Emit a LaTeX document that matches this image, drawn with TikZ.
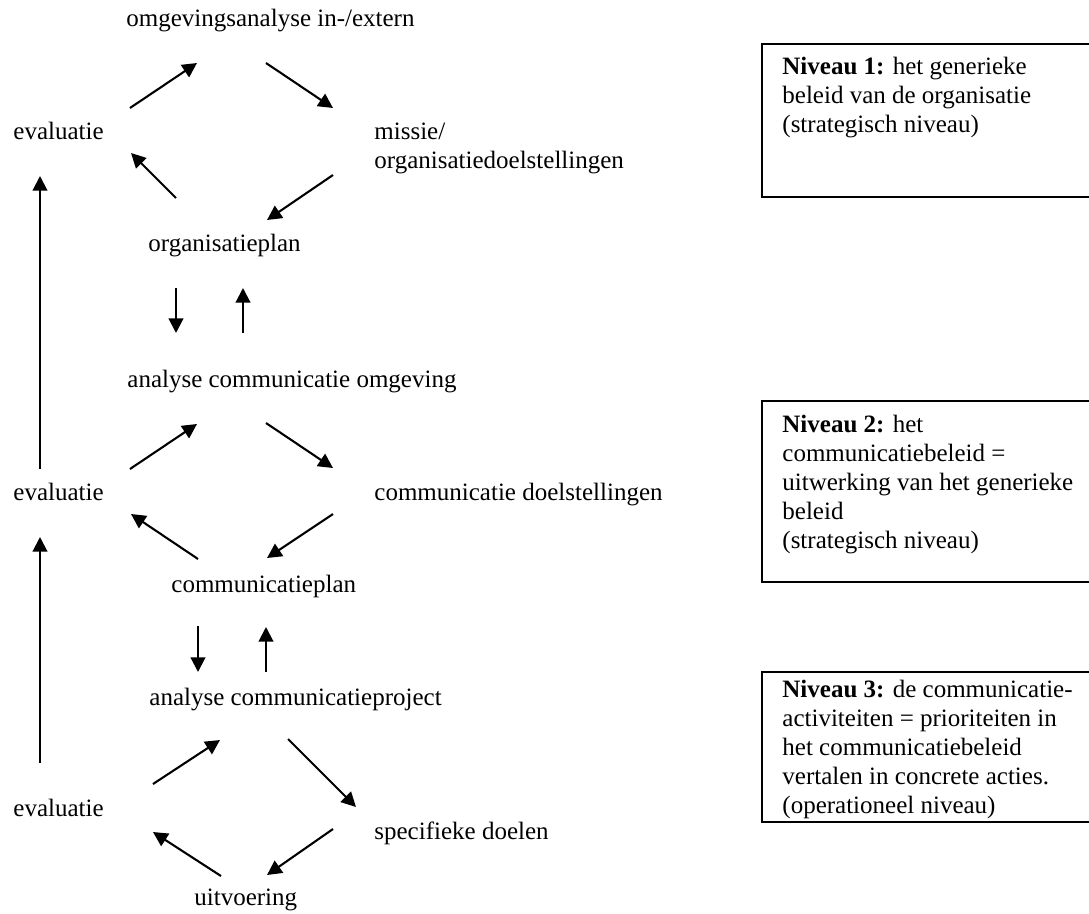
\documentclass[tikz,border=0pt]{standalone}
\usepackage{fontspec}
\setmainfont{Liberation Serif}
\usetikzlibrary{arrows.meta}
\begin{document}
\begin{tikzpicture}[x=0.48pt,y=-0.48pt,
  lbl/.style={anchor=base west, inner sep=0pt, align=left, font=\fontsize{12pt}{13.9pt}\selectfont},
  arr/.style={line width=1pt, -{Triangle[length=7pt,width=7pt]}},
  boxline/.style={draw, line width=1.1pt}]
\clip (0,0) rectangle (1089,913);
\fill[white] (0,0) rectangle (1089,913);

% level 1 (multi-line nodes are anchored at their last baseline)
\node[lbl] (omg) at (126,26) {omgevingsanalyse in-/extern};
\node[lbl] (ev1) at (13,139) {evaluatie};
\node[lbl] (mis) at (374,168) {missie/\\organisatiedoelstellingen};
\node[lbl] (orgp) at (148,251) {organisatieplan};

\coordinate (a1s) at (130,108); \coordinate (a1e) at (197,63);
\coordinate (a2s) at (266,63);  \coordinate (a2e) at (333,108);
\coordinate (a3s) at (333,175); \coordinate (a3e) at (267,220);
\coordinate (a4s) at (176,198); \coordinate (a4e) at (131,153);
\draw[arr] (a1s) -- (a1e);
\draw[arr] (a2s) -- (a2e);
\draw[arr] (a3s) -- (a3e);
\draw[arr] (a4s) -- (a4e);

\coordinate (d1s) at (176,288); \coordinate (d1e) at (176,333);
\coordinate (u1s) at (243,333); \coordinate (u1e) at (243,288);
\draw[arr] (d1s) -- (d1e);
\draw[arr] (u1s) -- (u1e);

\coordinate (v1s) at (40,469); \coordinate (v1e) at (40,176);
\draw[arr] (v1s) -- (v1e);

% level 2
\node[lbl] (aco) at (127,387) {analyse communicatie omgeving};
\node[lbl] (ev2) at (13,500) {evaluatie};
\node[lbl] (cdo) at (374,500) {communicatie doelstellingen};
\node[lbl] (cpl) at (171,592) {communicatieplan};

\coordinate (b1s) at (130,469); \coordinate (b1e) at (197,424);
\coordinate (b2s) at (266,423); \coordinate (b2e) at (333,468);
\coordinate (b3s) at (333,514); \coordinate (b3e) at (267,558);
\coordinate (b4s) at (198,559); \coordinate (b4e) at (131,514);
\draw[arr] (b1s) -- (b1e);
\draw[arr] (b2s) -- (b2e);
\draw[arr] (b3s) -- (b3e);
\draw[arr] (b4s) -- (b4e);

\coordinate (d2s) at (198,626); \coordinate (d2e) at (198,672);
\coordinate (u2s) at (266,672); \coordinate (u2e) at (266,627);
\draw[arr] (d2s) -- (d2e);
\draw[arr] (u2s) -- (u2e);

\coordinate (v2s) at (40,763); \coordinate (v2e) at (40,537);
\draw[arr] (v2s) -- (v2e);

% level 3
\node[lbl] (acp) at (149,705) {analyse communicatieproject};
\node[lbl] (ev3) at (13,816) {evaluatie};
\node[lbl] (spd) at (374,839) {specifieke doelen};
\node[lbl] (uit) at (194,905) {uitvoering};

\coordinate (c1s) at (153,784); \coordinate (c1e) at (220,740);
\coordinate (c2s) at (288,739); \coordinate (c2e) at (356,807);
\coordinate (c3s) at (333,829); \coordinate (c3e) at (267,875);
\coordinate (c4s) at (221,876); \coordinate (c4e) at (153,832);
\draw[arr] (c1s) -- (c1e);
\draw[arr] (c2s) -- (c2e);
\draw[arr] (c3s) -- (c3e);
\draw[arr] (c4s) -- (c4e);

% boxes
\draw[boxline] (762,44) rectangle (1110,197);
\node[lbl] (n1) at (782,132) {\textbf{Niveau 1:} het generieke\\beleid van de organisatie\\(strategisch niveau)};

\draw[boxline] (762,401) rectangle (1110,582);
\node[lbl] (n2) at (782,548) {\textbf{Niveau 2:} het\\communicatiebeleid =\\uitwerking van het generieke\\beleid\\(strategisch niveau)};

\draw[boxline] (762,672) rectangle (1110,822);
\node[lbl] (n3) at (782,813) {\textbf{Niveau 3:} de communicatie-\\activiteiten = prioriteiten in\\het communicatiebeleid\\vertalen in concrete acties.\\(operationeel niveau)};
\end{tikzpicture}
\end{document}
